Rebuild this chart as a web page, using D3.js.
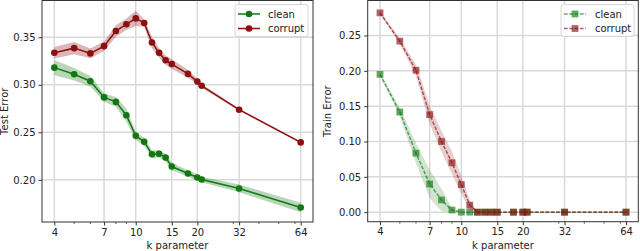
<!DOCTYPE html>
<html><head><meta charset="utf-8">
<script src="https://cdn.jsdelivr.net/npm/d3@7"></script>
<style>body{margin:0;background:#fff}svg{display:block;font-family:"DejaVu Sans",sans-serif}</style>
</head><body><svg id="c" width="640" height="251"></svg>
<script>
const kValues = [4,5,6,7,8,9,10,11,12,13,14,15,18,20,21,32,64];
const xTicks = [4,7,10,15,20,32,64];
const xMinor = [5,6,8,9,30,40,50,60];

const testClean =   [0.318,0.311,0.3037,0.2867,0.282,0.268,0.2463,0.240,0.227,0.2275,0.2234,0.214,0.2067,0.2025,0.2004,0.191,0.171];
const testCleanErr =[0.008,0.0065,0.0055,0.0045,0.005,0.007,0.004,0.004,0.004,0.004,0.004,0.004,0.0035,0.0035,0.003,0.004,0.005];
const testCorrupt = [0.3336,0.3385,0.333,0.3406,0.3566,0.3636,0.3698,0.365,0.3445,0.3336,0.3257,0.3218,0.3114,0.3033,0.2989,0.2738,0.2394];
const testCorruptErr=[0.006,0.0065,0.005,0.005,0.006,0.006,0.008,0.004,0.006,0.005,0.005,0.005,0.004,0.003,0.002,0.001,0.001];

const trainClean =   [0.195,0.1417,0.0835,0.0399,0.0173,0.003,0,0,0,0,0,0,0,0,0,0,0];
const trainCleanErr =[0.002,0.006,0.014,0.02,0.016,0.003,0,0,0,0,0,0,0,0,0,0,0];
const trainCorrupt = [0.282,0.242,0.2008,0.138,0.1,0.0699,0.039,0.0099,0,0,0,0,0,0,0,0,0];
const trainCorruptErr=[0.002,0.004,0.008,0.013,0.015,0.016,0.013,0.007,0,0,0,0,0,0,0,0,0];

const yTicksTest = [0.20,0.25,0.30,0.35];
const yTicksTrain = [0.00,0.05,0.10,0.15,0.20,0.25];

const GREEN = "#137813", RED = "#8b1111";
const svg = d3.select("#c");

function panel(opt){
  const x = d3.scaleLog().domain([3.482,73.5]).range([opt.x0,opt.x1]);
  const y = d3.scaleLinear().domain(opt.ydom).range([opt.y1,opt.y0]);
  const g = svg.append("g");
  g.selectAll(".gx").data(xTicks).enter().append("line")
    .attr("x1",d=>x(d)).attr("x2",d=>x(d)).attr("y1",opt.y0).attr("y2",opt.y1)
    .attr("stroke","#d9d9d9").attr("stroke-width",1.5);
  g.selectAll(".gy").data(opt.yticks).enter().append("line")
    .attr("x1",opt.x0).attr("x2",opt.x1).attr("y1",d=>y(d)).attr("y2",d=>y(d))
    .attr("stroke","#d9d9d9").attr("stroke-width",1.5);
  opt.series.forEach(s=>{
    const pts = kValues.map((k,i)=>({k,v:s.v[i],e:s.e[i]}));
    const area = d3.area().x(d=>x(d.k)).y0(d=>y(d.v-d.e)).y1(d=>y(d.v+d.e));
    g.append("path").attr("d",area(pts)).attr("fill",s.color).attr("fill-opacity",s.fillOp).attr("stroke","none");
    const line = d3.line().x(d=>x(d.k)).y(d=>y(d.v));
    g.append("path").attr("d",line(pts)).attr("fill","none").attr("stroke",s.color)
      .attr("stroke-width",1.5).attr("stroke-opacity",s.op).attr("stroke-dasharray",s.dash||null);
    if(s.marker==="circle"){
      g.selectAll(null).data(pts).enter().append("circle")
        .attr("cx",d=>x(d.k)).attr("cy",d=>y(d.v)).attr("r",3.3).attr("fill",s.color).attr("fill-opacity",s.op);
    } else {
      g.selectAll(null).data(pts).enter().append("rect")
        .attr("x",d=>x(d.k)-3.4).attr("y",d=>y(d.v)-3.4).attr("width",6.8).attr("height",6.8)
        .attr("fill",s.color).attr("fill-opacity",s.op);
    }
  });
  g.append("rect").attr("x",opt.x0).attr("y",opt.y0).attr("width",opt.x1-opt.x0).attr("height",opt.y1-opt.y0)
    .attr("fill","none").attr("stroke","#333").attr("stroke-width",1);
  const xa = g.append("g").attr("transform",`translate(0,${opt.y1})`)
    .call(d3.axisBottom(x).tickValues(xTicks).tickFormat(d3.format("d")).tickSize(3.5).tickPadding(3));
  xa.select(".domain").remove();
  xa.selectAll("text").attr("font-size",10).attr("font-family","DejaVu Sans").attr("fill","#222");
  xa.selectAll("line").attr("stroke","#333");
  g.selectAll(".mn").data(xMinor).enter().append("line")
    .attr("x1",d=>x(d)).attr("x2",d=>x(d)).attr("y1",opt.y1).attr("y2",opt.y1+2)
    .attr("stroke","#333").attr("stroke-width",0.8);
  const ya = g.append("g").attr("transform",`translate(${opt.x0},0)`)
    .call(d3.axisLeft(y).tickValues(opt.yticks).tickFormat(d3.format(".2f")).tickSize(3.5).tickPadding(3));
  ya.select(".domain").remove();
  ya.selectAll("text").attr("font-size",10).attr("font-family","DejaVu Sans").attr("fill","#222");
  ya.selectAll("line").attr("stroke","#333");
  g.append("text").attr("x",(opt.x0+opt.x1)/2).attr("y",249).attr("text-anchor","middle")
    .attr("font-size",10).attr("fill","#222").text("k parameter");
  g.append("text").attr("transform",`translate(${opt.ylabX},${(opt.y0+opt.y1)/2}) rotate(-90)`)
    .attr("text-anchor","middle").attr("font-size",10).attr("fill","#222").text(opt.ylabel);
  const L = g.append("g");
  L.append("rect").attr("x",opt.legX).attr("y",4.5).attr("width",73).attr("height",32).attr("rx",2.5)
    .attr("fill","#fff").attr("fill-opacity",0.8).attr("stroke","#d6d6d6");
  opt.series.forEach((s,i)=>{
    const yy = 14+i*14.5;
    L.append("line").attr("x1",opt.legX+3).attr("x2",opt.legX+25).attr("y1",yy).attr("y2",yy)
      .attr("stroke",s.color).attr("stroke-width",1.5).attr("stroke-opacity",s.op).attr("stroke-dasharray",s.dash||null);
    if(s.marker==="circle") L.append("circle").attr("cx",opt.legX+14).attr("cy",yy).attr("r",3.3).attr("fill",s.color);
    else L.append("rect").attr("x",opt.legX+14-3.4).attr("y",yy-3.4).attr("width",6.8).attr("height",6.8).attr("fill",s.color).attr("fill-opacity",s.op);
    L.append("text").attr("x",opt.legX+opt.txtOff).attr("y",yy+3.6).attr("font-size",10).attr("fill","#222").text(s.name);
  });
}

panel({x0:42,x1:313,y0:0.5,y1:222,ydom:[0.1557,0.3886],yticks:yTicksTest,ylabel:"Test Error",ylabX:7.5,legX:235,txtOff:33,
  series:[
    {name:"clean",v:testClean,e:testCleanErr,color:GREEN,op:1,fillOp:0.3,marker:"circle"},
    {name:"corrupt",v:testCorrupt,e:testCorruptErr,color:RED,op:1,fillOp:0.3,marker:"circle"}
  ]});
panel({x0:367.7,x1:638.3,y0:0.5,y1:221.7,ydom:[-0.0135,0.2995],yticks:yTicksTrain,ylabel:"Train Error",ylabX:330.5,legX:561,txtOff:34,
  series:[
    {name:"clean",v:trainClean,e:trainCleanErr,color:GREEN,op:0.65,fillOp:0.2,marker:"square",dash:"3.7,1.6"},
    {name:"corrupt",v:trainCorrupt,e:trainCorruptErr,color:RED,op:0.65,fillOp:0.2,marker:"square",dash:"3.7,1.6"}
  ]});
</script></body></html>
